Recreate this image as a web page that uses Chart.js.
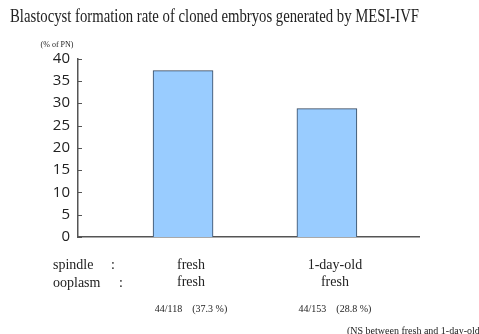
<!DOCTYPE html>
<html>
<head>
<meta charset="utf-8">
<script src="https://cdn.jsdelivr.net/npm/chart.js@4"></script>
<style>
    html, body { margin: 0; padding: 0; background: #fff; }
</style>
</head>
<body>
<canvas id="blastChart" width="479" height="334"></canvas>
<script>
const spindle = ["fresh", "1-day-old"];
const ooplasm = ["fresh", "fresh"];
const rates = [37.3, 28.8];
const blastocysts = [44, 44];
const totals = [118, 153];
const yTicks = [0, 5, 10, 15, 20, 25, 30, 35, 40];

const serif = "'Liberation Serif', 'Times New Roman', serif";
const sans = "'Open Sans', 'Liberation Sans', sans-serif";

// extra texts: row names, counts, note, axis unit, inner ticks
const extras = {
    id: "extras",
    afterDraw(chart) {
        const ctx = chart.ctx;
        const x = chart.scales.x;
        const y = chart.scales.y;

        ctx.save();
        ctx.strokeStyle = "#555";
        ctx.lineWidth = 1;
        yTicks.forEach(t => {
            const py = Math.round(y.getPixelForValue(t)) + 0.5;
            ctx.beginPath();
            ctx.moveTo(chart.chartArea.left, py);
            ctx.lineTo(chart.chartArea.left + 4, py);
            ctx.stroke();
        });

        ctx.fillStyle = "#222";
        ctx.textBaseline = "middle";

        ctx.font = "8px " + serif;
        ctx.textAlign = "center";
        ctx.fillText("(% of PN)", 57, 45);

        ctx.font = "14px " + serif;
        ctx.textAlign = "left";
        ctx.fillText("spindle", 53, 265);
        ctx.fillText(":", 111, 265);
        ctx.fillText("ooplasm", 53, 283);
        ctx.fillText(":", 119, 283);

        ctx.font = "10px " + serif;
        ctx.textAlign = "center";
        rates.forEach((r, i) => {
            const label = blastocysts[i] + "/" + totals[i] + "    (" + r + " %)";
            ctx.fillText(label, x.getPixelForValue(i + 1) + 8, 309);
        });

        ctx.textAlign = "left";
        ctx.fillText("(NS between fresh and 1-day-old)", 347, 331);
        ctx.restore();
    }
};

new Chart(document.getElementById("blastChart"), {
    type: "bar",
    data: {
        datasets: [{
            data: rates.map((r, i) => ({ x: i + 1, y: r })),
            backgroundColor: "#99ccff",
            borderColor: "#34465c",
            borderWidth: 1,
            barThickness: 60
        }]
    },
    options: {
        responsive: false,
        animation: false,
        devicePixelRatio: 1,
        layout: { padding: { left: 10, right: 60, top: 0, bottom: 0 } },
        plugins: {
            legend: { display: false },
            tooltip: { enabled: false },
            title: {
                display: true,
                text: "Blastocyst formation rate of cloned embryos generated by MESI-IVF",
                align: "start",
                color: "#222",
                font: { family: serif, size: 18, weight: "normal" },
                padding: { top: 6, bottom: 31 }
            }
        },
        scales: {
            x: {
                type: "linear",
                min: 0.27,
                max: 2.64,
                bounds: "data",
                offset: false,
                grid: { display: false, drawTicks: false },
                border: { display: true, color: "#555", width: 1.5 },
                afterBuildTicks: s => { s.ticks = spindle.map((_, i) => ({ value: i + 1 })); },
                afterFit: s => { s.height = 97; },
                ticks: {
                    autoSkip: false,
                    maxRotation: 0,
                    padding: 20,
                    labelOffset: 8,
                    color: "#222",
                    font: { family: serif, size: 14 },
                    callback: (v) => [spindle[v - 1], ooplasm[v - 1]]
                }
            },
            y: {
                min: 0,
                max: 40,
                grid: { display: false, drawTicks: false },
                border: { display: true, color: "#555", width: 1.5 },
                afterFit: s => { s.width = 68; },
                ticks: {
                    stepSize: 5,
                    padding: 8,
                    color: "#222",
                    font: { family: sans, size: 15 }
                }
            }
        }
    },
    plugins: [extras]
});
</script>
</body>
</html>
